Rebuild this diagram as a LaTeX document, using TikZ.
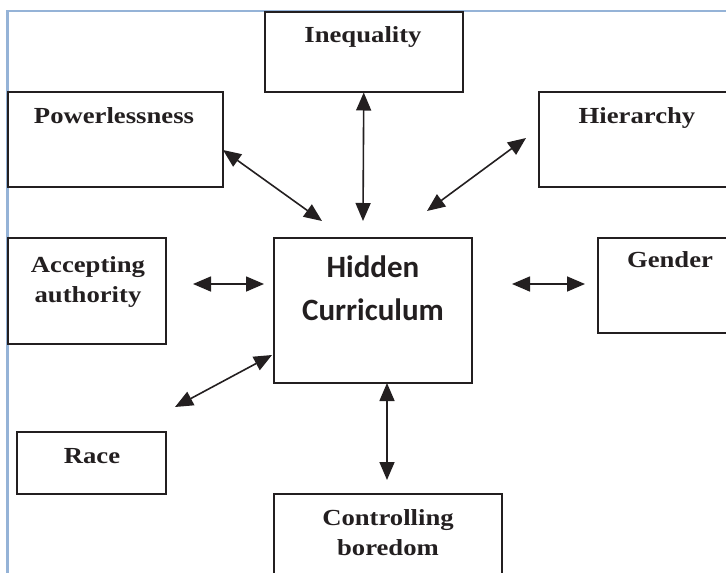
\documentclass[tikz,border=0pt]{standalone}
\usepackage{fontspec}
\setmainfont{Liberation Serif}[FakeStretch=1.16]
\newfontfamily\hcfont{Carlito}
\usetikzlibrary{arrows.meta}
\definecolor{ink}{HTML}{231F20}
\definecolor{framecol}{HTML}{95B3D7}
\begin{document}
\begin{tikzpicture}[x=1pt,y=-1pt,
  box/.style={draw=ink, line width=1.5pt, inner sep=0pt, anchor=north west},
  lbl/.style={font=\bfseries\fontsize{23}{30}\selectfont, text=ink, inner sep=0pt, align=center},
  link/.style={draw=ink, line width=1.6pt, {Triangle[length=18pt,width=15pt]}-{Triangle[length=18pt,width=15pt]}}]
\useasboundingbox (0,0) rectangle (726,573);
\clip (0,0) rectangle (726,573);
% frame
\draw[framecol, line width=2.5pt] (7.5,580) -- (7.5,11) -- (730,11);
% boxes
\node[box, minimum width=198pt, minimum height=80pt] (ineq) at (264,11) {};
\node[box, minimum width=215pt, minimum height=95pt] (power) at (7,91) {};
\node[box, minimum width=200pt, minimum height=95pt] (hier) at (538,91) {};
\node[box, minimum width=198pt, minimum height=145pt] (hidden) at (273,237) {};
\node[box, minimum width=158pt, minimum height=106pt] (accept) at (7,237) {};
\node[box, minimum width=150pt, minimum height=95pt] (gender) at (597,237) {};
\node[box, minimum width=149pt, minimum height=62pt] (race) at (16,431) {};
\node[box, minimum width=228pt, minimum height=100pt] (control) at (273,493) {};
% labels
\node[lbl, anchor=base] (tineq) at (363,42) {Inequality};
\node[lbl, anchor=base] (tpower) at (114,123) {Powerlessness};
\node[lbl, anchor=base] (thier) at (637,123) {Hierarchy};
\node[lbl, anchor=north] (taccept) at (88,256) {Accepting\\authority};
\node[lbl, anchor=base] (tgender) at (670,267) {Gender};
\node[lbl, anchor=base] (trace) at (92,463) {Race};
\node[lbl, anchor=north] (tcontrol) at (388,509) {Controlling\\boredom};
\node[font=\hcfont\bfseries\fontsize{31}{43}\selectfont, text=ink, inner sep=0pt, align=center, anchor=north] (thidden) at (373,256) {Hidden\\Curriculum};
% connector end points
\coordinate (e1) at (363,221);
\coordinate (s2) at (223,150);
\coordinate (e2) at (322,221);
\coordinate (s3) at (526,138);
\coordinate (e3) at (427,211);
\coordinate (s4) at (193,284);
\coordinate (e4) at (264,284);
\coordinate (s5) at (512,284);
\coordinate (e5) at (585,284);
\coordinate (s6) at (272,355);
\coordinate (e6) at (175,407);
\coordinate (s7) at (387,383);
\coordinate (e7) at (387,480);
% connectors
\draw[link] (ineq.south) -- (e1);
\draw[link] (s2) -- (e2);
\draw[link] (s3) -- (e3);
\draw[link] (s4) -- (e4);
\draw[link] (s5) -- (e5);
\draw[link] (s6) -- (e6);
\draw[link] (s7) -- (e7);
\end{tikzpicture}
\end{document}
